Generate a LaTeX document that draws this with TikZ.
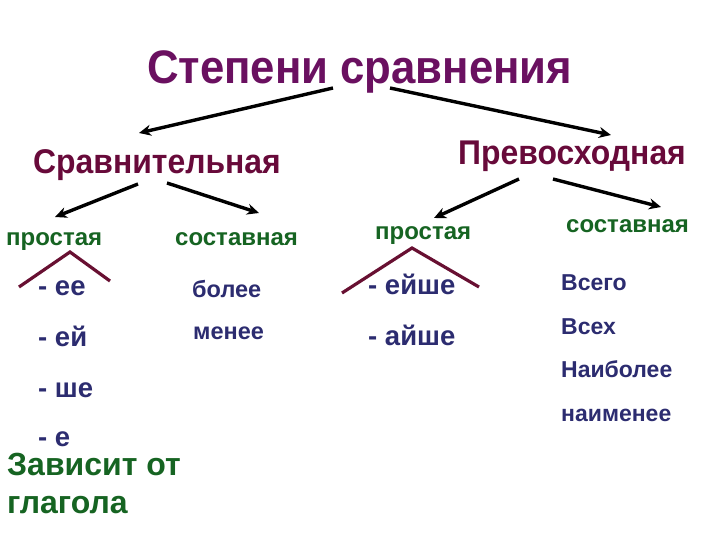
\documentclass[tikz,border=0pt]{standalone}
\usepackage{fontspec}
\setmainfont{Liberation Sans}
\newfontfamily\condsans[FakeStretch=0.93]{Liberation Sans}
\usetikzlibrary{arrows.meta}
\definecolor{titlecol}{RGB}{106,16,96}
\definecolor{headcol}{RGB}{104,10,58}
\definecolor{greencol}{RGB}{22,100,34}
\definecolor{bluecol}{RGB}{44,44,112}
\definecolor{roofcol}{RGB}{104,16,50}
\tikzset{
  txt/.style={inner sep=0pt, anchor=base west, font=\bfseries},
  titletxt/.style={txt, text=titlecol, font=\condsans\bfseries\fontsize{47}{50}\selectfont},
  headtxt/.style={txt, text=headcol, font=\condsans\bfseries\fontsize{34.3}{38}\selectfont},
  kindtxt/.style={txt, text=greencol, font=\bfseries\fontsize{24}{28}\selectfont},
  itemtxt/.style={txt, text=bluecol, font=\bfseries\fontsize{27.5}{30}\selectfont},
  midtxt/.style={txt, text=bluecol, font=\bfseries\fontsize{23.5}{26}\selectfont},
  smalltxt/.style={txt, text=bluecol, font=\bfseries\fontsize{23}{26}\selectfont},
  notetxt/.style={txt, text=greencol, font=\bfseries\fontsize{32}{36}\selectfont},
  arr/.style={draw=black, line width=3.4pt, -{Stealth[length=12pt,width=11pt]}},
  roof/.style={draw=roofcol, line width=3.2pt, line join=miter}
}
\begin{document}
\begin{tikzpicture}[x=1pt,y=-1pt]
\useasboundingbox[fill=white] (0,0) rectangle (720,540);
% headings
\node[titletxt] (title) at (147,84) {Степени сравнения};
\node[headtxt] (comp) at (33,174) {Сравнительная};
\node[headtxt] (sup) at (458,165) {Превосходная};
% kinds
\node[kindtxt] (cs) at (6,245) {простая};
\node[kindtxt] (cc) at (175,245) {составная};
\node[kindtxt] (ss) at (375,240) {простая};
\node[kindtxt] (sc) at (566,233) {составная};
% items
\node[itemtxt] (i1) at (38,295) {- ее};
\node[itemtxt] (i2) at (38,346) {- ей};
\node[itemtxt] (i3) at (38,397) {- ше};
\node[itemtxt] (i4) at (38,446) {- е};
\node[notetxt] (note1) at (7,475) {Зависит от};
\node[notetxt] (note2) at (7,513) {глагола};
\node[midtxt] (m1) at (192,297) {более};
\node[midtxt] (m2) at (193,339) {менее};
\node[itemtxt] (s1) at (368,294) {- ейше};
\node[itemtxt] (s2) at (368,345) {- айше};
\node[smalltxt] (c1) at (561,290) {Всего};
\node[smalltxt] (c2) at (561,334) {Всех};
\node[smalltxt] (c3) at (561,377) {Наиболее};
\node[smalltxt] (c4) at (561,421) {наименее};
% arrow end points
\coordinate (ta) at (333,88);
\coordinate (tb) at (390,88);
\coordinate (ca) at (138,184);
\coordinate (cb) at (167,183);
\coordinate (sa) at (519,179);
\coordinate (sb) at (553,179);
\coordinate (compTop) at (139,133);
\coordinate (supTop) at (611,135);
\coordinate (csTop) at (55,217);
\coordinate (ccTop) at (259,213);
\coordinate (ssTop) at (434,218);
\coordinate (scTop) at (661,207);
\draw[arr] (ta) -- (compTop);
\draw[arr] (tb) -- (supTop);
\draw[arr] (ca) -- (csTop);
\draw[arr] (cb) -- (ccTop);
\draw[arr] (sa) -- (ssTop);
\draw[arr] (sb) -- (scTop);
% roofs
\coordinate (r1a) at (19,287);
\coordinate (r1b) at (70,252);
\coordinate (r1c) at (110,281);
\coordinate (r2a) at (342,293);
\coordinate (r2b) at (412,248);
\coordinate (r2c) at (479,287);
\draw[roof] (r1a) -- (r1b) -- (r1c);
\draw[roof] (r2a) -- (r2b) -- (r2c);
\end{tikzpicture}
\end{document}
